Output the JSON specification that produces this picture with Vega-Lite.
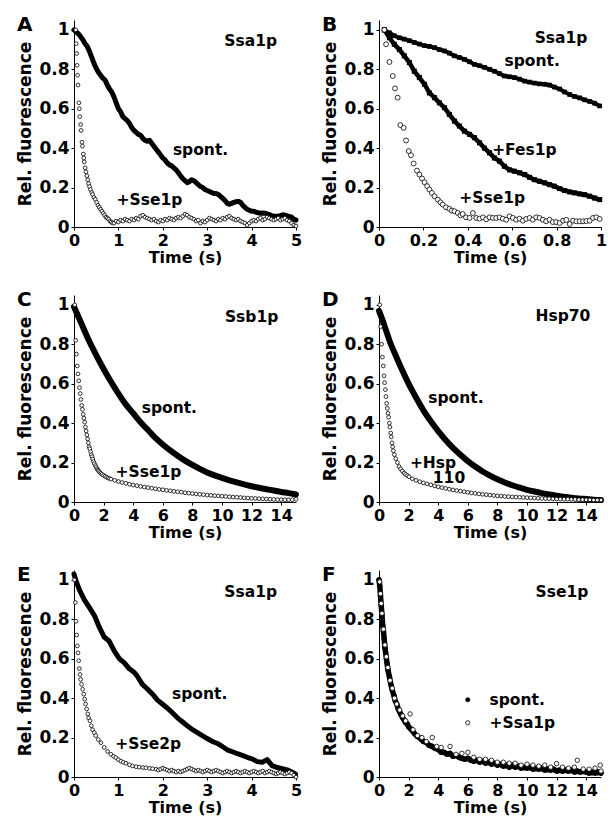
{
"$schema": "https://vega.github.io/schema/vega-lite/v6.json",
"padding": {"left": 16, "top": 15, "right": 5, "bottom": 5},
"bounds": "flush",
"columns": 2,
"spacing": {"row": 68, "column": 83},
"resolve": {"scale": {"fill": "independent"}, "legend": {"fill": "independent"}},
"datasets": {
"A_spont": [{"t":0,"v":1},{"t":0.05,"v":0.99},{"t":0.1,"v":0.98},{"t":0.15,"v":0.965},{"t":0.2,"v":0.95},{"t":0.25,"v":0.93},{"t":0.3,"v":0.915},{"t":0.35,"v":0.89},{"t":0.4,"v":0.86},{"t":0.45,"v":0.83},{"t":0.5,"v":0.805},{"t":0.55,"v":0.785},{"t":0.6,"v":0.77},{"t":0.65,"v":0.755},{"t":0.7,"v":0.745},{"t":0.75,"v":0.72},{"t":0.8,"v":0.7},{"t":0.85,"v":0.685},{"t":0.9,"v":0.66},{"t":0.95,"v":0.63},{"t":1,"v":0.6},{"t":1.05,"v":0.585},{"t":1.1,"v":0.56},{"t":1.15,"v":0.55},{"t":1.2,"v":0.54},{"t":1.25,"v":0.525},{"t":1.3,"v":0.505},{"t":1.35,"v":0.49},{"t":1.4,"v":0.48},{"t":1.45,"v":0.47},{"t":1.5,"v":0.465},{"t":1.55,"v":0.45},{"t":1.6,"v":0.44},{"t":1.65,"v":0.435},{"t":1.7,"v":0.44},{"t":1.75,"v":0.425},{"t":1.8,"v":0.41},{"t":1.85,"v":0.395},{"t":1.9,"v":0.38},{"t":1.95,"v":0.365},{"t":2,"v":0.35},{"t":2.05,"v":0.34},{"t":2.1,"v":0.325},{"t":2.15,"v":0.315},{"t":2.2,"v":0.31},{"t":2.25,"v":0.3},{"t":2.3,"v":0.29},{"t":2.35,"v":0.275},{"t":2.4,"v":0.26},{"t":2.45,"v":0.245},{"t":2.5,"v":0.235},{"t":2.55,"v":0.225},{"t":2.6,"v":0.23},{"t":2.65,"v":0.24},{"t":2.7,"v":0.235},{"t":2.75,"v":0.225},{"t":2.8,"v":0.215},{"t":2.85,"v":0.205},{"t":2.9,"v":0.2},{"t":2.95,"v":0.19},{"t":3,"v":0.185},{"t":3.05,"v":0.18},{"t":3.1,"v":0.175},{"t":3.15,"v":0.17},{"t":3.2,"v":0.17},{"t":3.25,"v":0.165},{"t":3.3,"v":0.155},{"t":3.35,"v":0.145},{"t":3.4,"v":0.135},{"t":3.45,"v":0.12},{"t":3.5,"v":0.115},{"t":3.55,"v":0.12},{"t":3.6,"v":0.125},{"t":3.65,"v":0.128},{"t":3.7,"v":0.13},{"t":3.75,"v":0.125},{"t":3.8,"v":0.11},{"t":3.85,"v":0.1},{"t":3.9,"v":0.09},{"t":3.95,"v":0.085},{"t":4,"v":0.08},{"t":4.05,"v":0.08},{"t":4.1,"v":0.075},{"t":4.15,"v":0.072},{"t":4.2,"v":0.07},{"t":4.25,"v":0.071},{"t":4.3,"v":0.07},{"t":4.35,"v":0.066},{"t":4.4,"v":0.063},{"t":4.45,"v":0.058},{"t":4.5,"v":0.055},{"t":4.55,"v":0.054},{"t":4.6,"v":0.055},{"t":4.65,"v":0.058},{"t":4.7,"v":0.062},{"t":4.75,"v":0.06},{"t":4.8,"v":0.056},{"t":4.85,"v":0.054},{"t":4.9,"v":0.05},{"t":4.95,"v":0.04},{"t":5,"v":0.035}],
"A_sse": [{"t":0.04,"v":1},{"t":0.05,"v":0.93},{"t":0.06,"v":0.88},{"t":0.07,"v":0.82},{"t":0.08,"v":0.77},{"t":0.09,"v":0.72},{"t":0.11,"v":0.63},{"t":0.12,"v":0.6},{"t":0.13,"v":0.56},{"t":0.15,"v":0.52},{"t":0.16,"v":0.49},{"t":0.18,"v":0.43},{"t":0.19,"v":0.41},{"t":0.21,"v":0.37},{"t":0.22,"v":0.35},{"t":0.23,"v":0.33},{"t":0.25,"v":0.3},{"t":0.27,"v":0.28},{"t":0.29,"v":0.26},{"t":0.31,"v":0.24},{"t":0.33,"v":0.22},{"t":0.35,"v":0.205},{"t":0.37,"v":0.19},{"t":0.4,"v":0.175},{"t":0.42,"v":0.165},{"t":0.45,"v":0.15},{"t":0.48,"v":0.14},{"t":0.51,"v":0.125},{"t":0.54,"v":0.11},{"t":0.57,"v":0.1},{"t":0.6,"v":0.09},{"t":0.63,"v":0.08},{"t":0.66,"v":0.07},{"t":0.69,"v":0.06},{"t":0.72,"v":0.05},{"t":0.75,"v":0.045},{"t":0.78,"v":0.04},{"t":0.81,"v":0.03},{"t":0.84,"v":0.025},{"t":0.87,"v":0.02},{"t":0.9,"v":0.02},{"t":0.95,"v":0.03},{"t":1,"v":0.025},{"t":1.05,"v":0.035},{"t":1.1,"v":0.03},{"t":1.15,"v":0.04},{"t":1.2,"v":0.035},{"t":1.25,"v":0.03},{"t":1.3,"v":0.04},{"t":1.35,"v":0.035},{"t":1.4,"v":0.045},{"t":1.45,"v":0.04},{"t":1.5,"v":0.055},{"t":1.55,"v":0.06},{"t":1.6,"v":0.05},{"t":1.65,"v":0.045},{"t":1.7,"v":0.04},{"t":1.75,"v":0.035},{"t":1.8,"v":0.04},{"t":1.85,"v":0.03},{"t":1.9,"v":0.025},{"t":1.95,"v":0.035},{"t":2,"v":0.03},{"t":2.05,"v":0.04},{"t":2.1,"v":0.035},{"t":2.15,"v":0.045},{"t":2.2,"v":0.04},{"t":2.25,"v":0.035},{"t":2.3,"v":0.045},{"t":2.35,"v":0.05},{"t":2.4,"v":0.045},{"t":2.45,"v":0.055},{"t":2.5,"v":0.065},{"t":2.55,"v":0.06},{"t":2.6,"v":0.05},{"t":2.65,"v":0.045},{"t":2.7,"v":0.04},{"t":2.75,"v":0.03},{"t":2.8,"v":0.035},{"t":2.85,"v":0.02},{"t":2.9,"v":0.03},{"t":2.95,"v":0.025},{"t":3,"v":0.035},{"t":3.05,"v":0.045},{"t":3.1,"v":0.04},{"t":3.15,"v":0.035},{"t":3.2,"v":0.03},{"t":3.25,"v":0.04},{"t":3.3,"v":0.035},{"t":3.35,"v":0.045},{"t":3.4,"v":0.04},{"t":3.45,"v":0.05},{"t":3.5,"v":0.055},{"t":3.55,"v":0.045},{"t":3.6,"v":0.04},{"t":3.65,"v":0.035},{"t":3.7,"v":0.04},{"t":3.75,"v":0.03},{"t":3.8,"v":0.025},{"t":3.85,"v":0.02},{"t":3.9,"v":0.01},{"t":3.95,"v":0.02},{"t":4,"v":0.03},{"t":4.05,"v":0.035},{"t":4.1,"v":0.03},{"t":4.15,"v":0.04},{"t":4.2,"v":0.045},{"t":4.25,"v":0.035},{"t":4.3,"v":0.04},{"t":4.35,"v":0.05},{"t":4.4,"v":0.045},{"t":4.45,"v":0.04},{"t":4.5,"v":0.035},{"t":4.55,"v":0.04},{"t":4.6,"v":0.045},{"t":4.65,"v":0.035},{"t":4.7,"v":0.04},{"t":4.75,"v":0.045},{"t":4.8,"v":0.035},{"t":4.85,"v":0.03},{"t":4.9,"v":0.02},{"t":4.95,"v":0.01},{"t":5,"v":0.005}],
"A_lab": [{"t":3.98,"v":0.92,"label":"Ssa1p"},{"t":2.85,"v":0.367,"label":"spont."},{"t":1.7,"v":0.113,"label":"+Sse1p"}],
"B_spont": [{"t":0.024,"v":1},{"t":0.047,"v":0.985},{"t":0.069,"v":0.97},{"t":0.092,"v":0.96},{"t":0.114,"v":0.953},{"t":0.137,"v":0.945},{"t":0.159,"v":0.936},{"t":0.182,"v":0.928},{"t":0.205,"v":0.92},{"t":0.227,"v":0.916},{"t":0.25,"v":0.91},{"t":0.272,"v":0.9},{"t":0.295,"v":0.893},{"t":0.317,"v":0.882},{"t":0.34,"v":0.868},{"t":0.362,"v":0.86},{"t":0.385,"v":0.85},{"t":0.408,"v":0.838},{"t":0.43,"v":0.825},{"t":0.453,"v":0.818},{"t":0.475,"v":0.81},{"t":0.498,"v":0.8},{"t":0.52,"v":0.79},{"t":0.543,"v":0.778},{"t":0.565,"v":0.766},{"t":0.588,"v":0.762},{"t":0.61,"v":0.758},{"t":0.633,"v":0.75},{"t":0.656,"v":0.74},{"t":0.678,"v":0.735},{"t":0.7,"v":0.73},{"t":0.723,"v":0.726},{"t":0.746,"v":0.724},{"t":0.768,"v":0.72},{"t":0.79,"v":0.71},{"t":0.814,"v":0.7},{"t":0.836,"v":0.685},{"t":0.859,"v":0.672},{"t":0.881,"v":0.662},{"t":0.904,"v":0.655},{"t":0.926,"v":0.645},{"t":0.949,"v":0.637},{"t":0.971,"v":0.628},{"t":0.994,"v":0.614}],
"B_fes": [{"t":0.024,"v":1},{"t":0.047,"v":0.96},{"t":0.069,"v":0.927},{"t":0.092,"v":0.9},{"t":0.114,"v":0.868},{"t":0.137,"v":0.834},{"t":0.159,"v":0.79},{"t":0.182,"v":0.758},{"t":0.205,"v":0.724},{"t":0.227,"v":0.68},{"t":0.25,"v":0.656},{"t":0.272,"v":0.63},{"t":0.295,"v":0.605},{"t":0.317,"v":0.571},{"t":0.34,"v":0.537},{"t":0.362,"v":0.512},{"t":0.385,"v":0.486},{"t":0.408,"v":0.47},{"t":0.43,"v":0.453},{"t":0.453,"v":0.427},{"t":0.475,"v":0.4},{"t":0.498,"v":0.376},{"t":0.52,"v":0.35},{"t":0.543,"v":0.334},{"t":0.565,"v":0.308},{"t":0.588,"v":0.29},{"t":0.61,"v":0.283},{"t":0.633,"v":0.275},{"t":0.656,"v":0.266},{"t":0.678,"v":0.252},{"t":0.7,"v":0.24},{"t":0.723,"v":0.232},{"t":0.746,"v":0.224},{"t":0.768,"v":0.215},{"t":0.79,"v":0.207},{"t":0.814,"v":0.195},{"t":0.836,"v":0.185},{"t":0.859,"v":0.178},{"t":0.881,"v":0.173},{"t":0.904,"v":0.168},{"t":0.926,"v":0.164},{"t":0.949,"v":0.156},{"t":0.971,"v":0.147},{"t":0.994,"v":0.139}],
"B_sse": [{"t":0.024,"v":1},{"t":0.032,"v":0.927},{"t":0.047,"v":0.837},{"t":0.062,"v":0.766},{"t":0.072,"v":0.703},{"t":0.084,"v":0.656},{"t":0.096,"v":0.517},{"t":0.111,"v":0.503},{"t":0.122,"v":0.439},{"t":0.134,"v":0.385},{"t":0.144,"v":0.364},{"t":0.156,"v":0.322},{"t":0.171,"v":0.286},{"t":0.182,"v":0.266},{"t":0.194,"v":0.246},{"t":0.205,"v":0.227},{"t":0.217,"v":0.207},{"t":0.227,"v":0.19},{"t":0.238,"v":0.173},{"t":0.25,"v":0.156},{"t":0.265,"v":0.139},{"t":0.277,"v":0.125},{"t":0.287,"v":0.114},{"t":0.302,"v":0.1},{"t":0.317,"v":0.092},{"t":0.328,"v":0.083},{"t":0.34,"v":0.08},{"t":0.355,"v":0.071},{"t":0.367,"v":0.059},{"t":0.377,"v":0.066},{"t":0.392,"v":0.049},{"t":0.408,"v":0.046},{"t":0.423,"v":0.071},{"t":0.438,"v":0.046},{"t":0.453,"v":0.042},{"t":0.468,"v":0.049},{"t":0.483,"v":0.039},{"t":0.498,"v":0.049},{"t":0.513,"v":0.046},{"t":0.528,"v":0.046},{"t":0.543,"v":0.049},{"t":0.558,"v":0.042},{"t":0.573,"v":0.037},{"t":0.588,"v":0.054},{"t":0.603,"v":0.046},{"t":0.618,"v":0.037},{"t":0.633,"v":0.042},{"t":0.648,"v":0.032},{"t":0.663,"v":0.041},{"t":0.678,"v":0.046},{"t":0.693,"v":0.037},{"t":0.708,"v":0.049},{"t":0.723,"v":0.046},{"t":0.738,"v":0.037},{"t":0.753,"v":0.029},{"t":0.768,"v":0.037},{"t":0.783,"v":0.025},{"t":0.798,"v":0.025},{"t":0.814,"v":0.02},{"t":0.829,"v":0.032},{"t":0.844,"v":0.036},{"t":0.859,"v":0.015},{"t":0.874,"v":0.032},{"t":0.889,"v":0.029},{"t":0.904,"v":0.029},{"t":0.919,"v":0.029},{"t":0.934,"v":0.03},{"t":0.949,"v":0.032},{"t":0.964,"v":0.046},{"t":0.979,"v":0.049},{"t":0.994,"v":0.041}],
"B_lab": [{"t":0.82,"v":0.934,"label":"Ssa1p"},{"t":0.69,"v":0.816,"label":"spont."},{"t":0.655,"v":0.367,"label":"+Fes1p"},{"t":0.51,"v":0.122,"label":"+Sse1p"}],
"C_spont": [{"t":0,"v":0.99},{"t":0.5,"v":0.905},{"t":1,"v":0.82},{"t":1.5,"v":0.745},{"t":2,"v":0.675},{"t":2.5,"v":0.61},{"t":3,"v":0.55},{"t":3.5,"v":0.495},{"t":4,"v":0.45},{"t":4.5,"v":0.405},{"t":5,"v":0.365},{"t":5.5,"v":0.325},{"t":6,"v":0.292},{"t":6.5,"v":0.262},{"t":7,"v":0.235},{"t":7.5,"v":0.21},{"t":8,"v":0.188},{"t":8.5,"v":0.168},{"t":9,"v":0.15},{"t":9.5,"v":0.135},{"t":10,"v":0.122},{"t":10.5,"v":0.11},{"t":11,"v":0.099},{"t":11.5,"v":0.089},{"t":12,"v":0.08},{"t":12.5,"v":0.072},{"t":13,"v":0.065},{"t":13.5,"v":0.058},{"t":14,"v":0.051},{"t":14.5,"v":0.045},{"t":15,"v":0.038}],
"C_sse": [{"t":0.05,"v":1},{"t":0.11,"v":0.82},{"t":0.17,"v":0.75},{"t":0.22,"v":0.69},{"t":0.27,"v":0.65},{"t":0.32,"v":0.615},{"t":0.37,"v":0.58},{"t":0.42,"v":0.55},{"t":0.47,"v":0.52},{"t":0.52,"v":0.49},{"t":0.57,"v":0.47},{"t":0.62,"v":0.445},{"t":0.67,"v":0.425},{"t":0.72,"v":0.405},{"t":0.77,"v":0.38},{"t":0.82,"v":0.36},{"t":0.87,"v":0.34},{"t":0.92,"v":0.32},{"t":0.97,"v":0.3},{"t":1.02,"v":0.28},{"t":1.07,"v":0.27},{"t":1.12,"v":0.255},{"t":1.17,"v":0.24},{"t":1.22,"v":0.23},{"t":1.27,"v":0.218},{"t":1.32,"v":0.205},{"t":1.38,"v":0.195},{"t":1.44,"v":0.185},{"t":1.5,"v":0.177},{"t":1.56,"v":0.168},{"t":1.62,"v":0.162},{"t":1.68,"v":0.156},{"t":1.75,"v":0.15},{"t":1.82,"v":0.145},{"t":1.9,"v":0.14},{"t":2,"v":0.135},{"t":2.1,"v":0.13},{"t":2.2,"v":0.126},{"t":2.3,"v":0.122},{"t":2.4,"v":0.119},{"t":2.5,"v":0.116},{"t":2.75,"v":0.11},{"t":3,"v":0.104},{"t":3.25,"v":0.099},{"t":3.5,"v":0.095},{"t":3.75,"v":0.09},{"t":4,"v":0.086},{"t":4.25,"v":0.083},{"t":4.5,"v":0.079},{"t":4.75,"v":0.076},{"t":5,"v":0.073},{"t":5.25,"v":0.07},{"t":5.5,"v":0.067},{"t":5.75,"v":0.064},{"t":6,"v":0.062},{"t":6.25,"v":0.059},{"t":6.5,"v":0.057},{"t":6.75,"v":0.054},{"t":7,"v":0.052},{"t":7.25,"v":0.05},{"t":7.5,"v":0.047},{"t":7.75,"v":0.045},{"t":8,"v":0.043},{"t":8.25,"v":0.041},{"t":8.5,"v":0.039},{"t":8.75,"v":0.037},{"t":9,"v":0.035},{"t":9.25,"v":0.034},{"t":9.5,"v":0.032},{"t":9.75,"v":0.031},{"t":10,"v":0.029},{"t":10.25,"v":0.028},{"t":10.5,"v":0.026},{"t":10.75,"v":0.025},{"t":11,"v":0.024},{"t":11.25,"v":0.023},{"t":11.5,"v":0.021},{"t":11.75,"v":0.02},{"t":12,"v":0.019},{"t":12.25,"v":0.018},{"t":12.5,"v":0.017},{"t":12.75,"v":0.016},{"t":13,"v":0.015},{"t":13.25,"v":0.014},{"t":13.5,"v":0.013},{"t":13.75,"v":0.012},{"t":14,"v":0.012},{"t":14.25,"v":0.011},{"t":14.5,"v":0.011},{"t":14.75,"v":0.012},{"t":15,"v":0.014}],
"C_lab": [{"t":12.0,"v":0.912,"label":"Ssb1p"},{"t":6.44,"v":0.452,"label":"spont."},{"t":5.03,"v":0.129,"label":"+Sse1p"}],
"D_spont": [{"t":0,"v":0.97},{"t":0.25,"v":0.92},{"t":0.5,"v":0.865},{"t":0.75,"v":0.81},{"t":1,"v":0.765},{"t":1.5,"v":0.68},{"t":2,"v":0.6},{"t":2.5,"v":0.53},{"t":3,"v":0.465},{"t":3.5,"v":0.41},{"t":4,"v":0.36},{"t":4.5,"v":0.315},{"t":5,"v":0.275},{"t":5.5,"v":0.24},{"t":6,"v":0.207},{"t":6.5,"v":0.18},{"t":7,"v":0.155},{"t":7.5,"v":0.134},{"t":8,"v":0.115},{"t":8.5,"v":0.099},{"t":9,"v":0.085},{"t":9.5,"v":0.073},{"t":10,"v":0.062},{"t":10.5,"v":0.053},{"t":11,"v":0.045},{"t":11.5,"v":0.038},{"t":12,"v":0.032},{"t":12.5,"v":0.027},{"t":13,"v":0.022},{"t":13.5,"v":0.018},{"t":14,"v":0.015},{"t":14.5,"v":0.012},{"t":15,"v":0.01}],
"D_hsp": [{"t":0.05,"v":1},{"t":0.11,"v":0.89},{"t":0.18,"v":0.8},{"t":0.23,"v":0.735},{"t":0.29,"v":0.69},{"t":0.34,"v":0.64},{"t":0.38,"v":0.605},{"t":0.43,"v":0.57},{"t":0.47,"v":0.535},{"t":0.52,"v":0.5},{"t":0.56,"v":0.475},{"t":0.61,"v":0.45},{"t":0.65,"v":0.43},{"t":0.7,"v":0.4},{"t":0.74,"v":0.38},{"t":0.79,"v":0.35},{"t":0.83,"v":0.33},{"t":0.88,"v":0.3},{"t":0.92,"v":0.28},{"t":0.97,"v":0.26},{"t":1.04,"v":0.24},{"t":1.13,"v":0.22},{"t":1.24,"v":0.2},{"t":1.35,"v":0.18},{"t":1.46,"v":0.168},{"t":1.58,"v":0.157},{"t":1.7,"v":0.147},{"t":1.8,"v":0.14},{"t":1.92,"v":0.134},{"t":2.03,"v":0.128},{"t":2.25,"v":0.118},{"t":2.5,"v":0.11},{"t":2.75,"v":0.103},{"t":3,"v":0.097},{"t":3.25,"v":0.092},{"t":3.5,"v":0.087},{"t":3.75,"v":0.082},{"t":4,"v":0.077},{"t":4.25,"v":0.073},{"t":4.5,"v":0.069},{"t":4.75,"v":0.065},{"t":5,"v":0.061},{"t":5.25,"v":0.058},{"t":5.5,"v":0.055},{"t":5.75,"v":0.052},{"t":6,"v":0.049},{"t":6.25,"v":0.046},{"t":6.5,"v":0.044},{"t":6.75,"v":0.041},{"t":7,"v":0.039},{"t":7.25,"v":0.037},{"t":7.5,"v":0.035},{"t":7.75,"v":0.033},{"t":8,"v":0.031},{"t":8.25,"v":0.03},{"t":8.5,"v":0.028},{"t":8.75,"v":0.027},{"t":9,"v":0.026},{"t":9.25,"v":0.025},{"t":9.5,"v":0.024},{"t":9.75,"v":0.023},{"t":10,"v":0.022},{"t":10.25,"v":0.021},{"t":10.5,"v":0.02},{"t":10.75,"v":0.019},{"t":11,"v":0.018},{"t":11.25,"v":0.017},{"t":11.5,"v":0.017},{"t":11.75,"v":0.016},{"t":12,"v":0.015},{"t":12.25,"v":0.015},{"t":12.5,"v":0.014},{"t":12.75,"v":0.014},{"t":13,"v":0.013},{"t":13.25,"v":0.013},{"t":13.5,"v":0.012},{"t":13.75,"v":0.012},{"t":14,"v":0.011},{"t":14.25,"v":0.011},{"t":14.5,"v":0.01},{"t":14.75,"v":0.01},{"t":15,"v":0.01}],
"D_lab": [{"t":12.43,"v":0.919,"label":"Hsp70"},{"t":5.2,"v":0.504,"label":"spont."},{"t":3.65,"v":0.174,"label":"+Hsp"},{"t":4.73,"v":0.098,"label":"110"}],
"E_spont": [{"t":0,"v":1.03},{"t":0.045,"v":0.995},{"t":0.12,"v":0.95},{"t":0.23,"v":0.9},{"t":0.345,"v":0.86},{"t":0.457,"v":0.82},{"t":0.57,"v":0.76},{"t":0.68,"v":0.71},{"t":0.79,"v":0.69},{"t":0.906,"v":0.64},{"t":1.02,"v":0.6},{"t":1.13,"v":0.58},{"t":1.24,"v":0.55},{"t":1.36,"v":0.53},{"t":1.43,"v":0.51},{"t":1.54,"v":0.47},{"t":1.66,"v":0.445},{"t":1.77,"v":0.42},{"t":1.88,"v":0.39},{"t":1.99,"v":0.37},{"t":2.1,"v":0.35},{"t":2.22,"v":0.325},{"t":2.33,"v":0.3},{"t":2.44,"v":0.28},{"t":2.55,"v":0.26},{"t":2.67,"v":0.24},{"t":2.78,"v":0.225},{"t":2.89,"v":0.21},{"t":3,"v":0.195},{"t":3.12,"v":0.18},{"t":3.23,"v":0.17},{"t":3.34,"v":0.155},{"t":3.45,"v":0.138},{"t":3.57,"v":0.128},{"t":3.68,"v":0.118},{"t":3.79,"v":0.11},{"t":3.9,"v":0.1},{"t":4.01,"v":0.092},{"t":4.13,"v":0.078},{"t":4.24,"v":0.075},{"t":4.35,"v":0.088},{"t":4.46,"v":0.058},{"t":4.58,"v":0.048},{"t":4.69,"v":0.042},{"t":4.8,"v":0.036},{"t":4.91,"v":0.025},{"t":4.99,"v":0.014}],
"E_sse": [{"t":0.01,"v":1},{"t":0.03,"v":0.885},{"t":0.045,"v":0.79},{"t":0.06,"v":0.72},{"t":0.075,"v":0.665},{"t":0.09,"v":0.63},{"t":0.105,"v":0.59},{"t":0.12,"v":0.55},{"t":0.135,"v":0.52},{"t":0.15,"v":0.495},{"t":0.17,"v":0.47},{"t":0.195,"v":0.445},{"t":0.22,"v":0.42},{"t":0.24,"v":0.395},{"t":0.26,"v":0.37},{"t":0.285,"v":0.345},{"t":0.31,"v":0.32},{"t":0.33,"v":0.3},{"t":0.36,"v":0.285},{"t":0.39,"v":0.26},{"t":0.42,"v":0.24},{"t":0.457,"v":0.225},{"t":0.49,"v":0.21},{"t":0.547,"v":0.19},{"t":0.607,"v":0.174},{"t":0.68,"v":0.15},{"t":0.757,"v":0.13},{"t":0.83,"v":0.115},{"t":0.89,"v":0.105},{"t":0.944,"v":0.098},{"t":1,"v":0.088},{"t":1.056,"v":0.08},{"t":1.11,"v":0.075},{"t":1.17,"v":0.07},{"t":1.25,"v":0.062},{"t":1.32,"v":0.056},{"t":1.4,"v":0.052},{"t":1.47,"v":0.05},{"t":1.55,"v":0.048},{"t":1.62,"v":0.047},{"t":1.7,"v":0.044},{"t":1.77,"v":0.042},{"t":1.85,"v":0.04},{"t":1.9,"v":0.035},{"t":1.95,"v":0.04},{"t":2,"v":0.045},{"t":2.05,"v":0.04},{"t":2.1,"v":0.035},{"t":2.15,"v":0.03},{"t":2.2,"v":0.035},{"t":2.25,"v":0.03},{"t":2.3,"v":0.025},{"t":2.35,"v":0.03},{"t":2.4,"v":0.025},{"t":2.45,"v":0.03},{"t":2.5,"v":0.035},{"t":2.55,"v":0.04},{"t":2.6,"v":0.045},{"t":2.65,"v":0.04},{"t":2.7,"v":0.035},{"t":2.75,"v":0.03},{"t":2.8,"v":0.035},{"t":2.85,"v":0.03},{"t":2.9,"v":0.025},{"t":2.95,"v":0.03},{"t":3,"v":0.035},{"t":3.05,"v":0.03},{"t":3.1,"v":0.025},{"t":3.15,"v":0.03},{"t":3.2,"v":0.035},{"t":3.25,"v":0.03},{"t":3.3,"v":0.025},{"t":3.35,"v":0.02},{"t":3.4,"v":0.025},{"t":3.45,"v":0.03},{"t":3.5,"v":0.025},{"t":3.55,"v":0.02},{"t":3.6,"v":0.025},{"t":3.65,"v":0.03},{"t":3.7,"v":0.025},{"t":3.75,"v":0.02},{"t":3.8,"v":0.025},{"t":3.85,"v":0.03},{"t":3.9,"v":0.025},{"t":3.95,"v":0.02},{"t":4,"v":0.025},{"t":4.05,"v":0.03},{"t":4.1,"v":0.025},{"t":4.15,"v":0.02},{"t":4.2,"v":0.025},{"t":4.25,"v":0.03},{"t":4.3,"v":0.02},{"t":4.35,"v":0.025},{"t":4.4,"v":0.03},{"t":4.45,"v":0.025},{"t":4.5,"v":0.02},{"t":4.55,"v":0.015},{"t":4.6,"v":0.02},{"t":4.65,"v":0.025},{"t":4.7,"v":0.02},{"t":4.75,"v":0.015},{"t":4.8,"v":0.02},{"t":4.85,"v":0.025},{"t":4.9,"v":0.02},{"t":4.95,"v":0.01},{"t":5,"v":0.0}],
"E_lab": [{"t":3.98,"v":0.912,"label":"Ssa1p"},{"t":2.83,"v":0.396,"label":"spont."},{"t":1.67,"v":0.142,"label":"+Sse2p"}],
"F": [{"t":0,"v":1,"s":"spont."},{"t":0.05,"v":0.97,"s":"spont."},{"t":0.1,"v":0.92,"s":"spont."},{"t":0.15,"v":0.87,"s":"spont."},{"t":0.2,"v":0.82,"s":"spont."},{"t":0.25,"v":0.77,"s":"spont."},{"t":0.3,"v":0.74,"s":"spont."},{"t":0.35,"v":0.7,"s":"spont."},{"t":0.4,"v":0.655,"s":"spont."},{"t":0.45,"v":0.63,"s":"spont."},{"t":0.5,"v":0.6,"s":"spont."},{"t":0.55,"v":0.575,"s":"spont."},{"t":0.6,"v":0.545,"s":"spont."},{"t":0.7,"v":0.51,"s":"spont."},{"t":0.8,"v":0.47,"s":"spont."},{"t":0.9,"v":0.44,"s":"spont."},{"t":1,"v":0.415,"s":"spont."},{"t":1.1,"v":0.385,"s":"spont."},{"t":1.2,"v":0.37,"s":"spont."},{"t":1.3,"v":0.345,"s":"spont."},{"t":1.4,"v":0.33,"s":"spont."},{"t":1.5,"v":0.315,"s":"spont."},{"t":1.6,"v":0.3,"s":"spont."},{"t":1.7,"v":0.29,"s":"spont."},{"t":1.8,"v":0.275,"s":"spont."},{"t":1.9,"v":0.27,"s":"spont."},{"t":2,"v":0.255,"s":"spont."},{"t":2.2,"v":0.24,"s":"spont."},{"t":2.4,"v":0.22,"s":"spont."},{"t":2.6,"v":0.205,"s":"spont."},{"t":2.8,"v":0.195,"s":"spont."},{"t":3,"v":0.18,"s":"spont."},{"t":3.2,"v":0.175,"s":"spont."},{"t":3.4,"v":0.16,"s":"spont."},{"t":3.6,"v":0.155,"s":"spont."},{"t":3.8,"v":0.145,"s":"spont."},{"t":4,"v":0.14,"s":"spont."},{"t":4.2,"v":0.125,"s":"spont."},{"t":4.4,"v":0.125,"s":"spont."},{"t":4.6,"v":0.115,"s":"spont."},{"t":4.8,"v":0.12,"s":"spont."},{"t":5,"v":0.105,"s":"spont."},{"t":5.2,"v":0.11,"s":"spont."},{"t":5.4,"v":0.1,"s":"spont."},{"t":5.6,"v":0.095,"s":"spont."},{"t":5.8,"v":0.09,"s":"spont."},{"t":6,"v":0.095,"s":"spont."},{"t":6.2,"v":0.085,"s":"spont."},{"t":6.4,"v":0.08,"s":"spont."},{"t":6.6,"v":0.085,"s":"spont."},{"t":6.8,"v":0.075,"s":"spont."},{"t":7,"v":0.08,"s":"spont."},{"t":7.2,"v":0.07,"s":"spont."},{"t":7.4,"v":0.075,"s":"spont."},{"t":7.6,"v":0.065,"s":"spont."},{"t":7.8,"v":0.07,"s":"spont."},{"t":8,"v":0.06,"s":"spont."},{"t":8.2,"v":0.065,"s":"spont."},{"t":8.4,"v":0.055,"s":"spont."},{"t":8.6,"v":0.06,"s":"spont."},{"t":8.8,"v":0.05,"s":"spont."},{"t":9,"v":0.06,"s":"spont."},{"t":9.2,"v":0.05,"s":"spont."},{"t":9.4,"v":0.055,"s":"spont."},{"t":9.6,"v":0.045,"s":"spont."},{"t":9.8,"v":0.05,"s":"spont."},{"t":10,"v":0.045,"s":"spont."},{"t":10.2,"v":0.05,"s":"spont."},{"t":10.4,"v":0.04,"s":"spont."},{"t":10.6,"v":0.045,"s":"spont."},{"t":10.8,"v":0.04,"s":"spont."},{"t":11,"v":0.045,"s":"spont."},{"t":11.2,"v":0.035,"s":"spont."},{"t":11.4,"v":0.04,"s":"spont."},{"t":11.6,"v":0.035,"s":"spont."},{"t":11.8,"v":0.04,"s":"spont."},{"t":12,"v":0.03,"s":"spont."},{"t":12.2,"v":0.035,"s":"spont."},{"t":12.4,"v":0.03,"s":"spont."},{"t":12.6,"v":0.035,"s":"spont."},{"t":12.8,"v":0.03,"s":"spont."},{"t":13,"v":0.035,"s":"spont."},{"t":13.2,"v":0.025,"s":"spont."},{"t":13.4,"v":0.03,"s":"spont."},{"t":13.6,"v":0.025,"s":"spont."},{"t":13.8,"v":0.03,"s":"spont."},{"t":14,"v":0.025,"s":"spont."},{"t":14.2,"v":0.02,"s":"spont."},{"t":14.4,"v":0.025,"s":"spont."},{"t":14.6,"v":0.02,"s":"spont."},{"t":14.8,"v":0.025,"s":"spont."},{"t":15,"v":0.02,"s":"spont."},
{"t":0.05,"v":0.99,"s":"+Ssa1p"},{"t":0.1,"v":0.93,"s":"+Ssa1p"},{"t":0.15,"v":0.88,"s":"+Ssa1p"},{"t":0.2,"v":0.83,"s":"+Ssa1p"},{"t":0.3,"v":0.75,"s":"+Ssa1p"},{"t":0.4,"v":0.67,"s":"+Ssa1p"},{"t":0.5,"v":0.61,"s":"+Ssa1p"},{"t":0.6,"v":0.555,"s":"+Ssa1p"},{"t":0.75,"v":0.49,"s":"+Ssa1p"},{"t":0.9,"v":0.45,"s":"+Ssa1p"},{"t":1.05,"v":0.4,"s":"+Ssa1p"},{"t":1.2,"v":0.37,"s":"+Ssa1p"},{"t":1.4,"v":0.34,"s":"+Ssa1p"},{"t":1.6,"v":0.31,"s":"+Ssa1p"},{"t":1.8,"v":0.285,"s":"+Ssa1p"},{"t":2.1,"v":0.32,"s":"+Ssa1p"},{"t":2.3,"v":0.24,"s":"+Ssa1p"},{"t":2.6,"v":0.21,"s":"+Ssa1p"},{"t":2.9,"v":0.2,"s":"+Ssa1p"},{"t":3.2,"v":0.18,"s":"+Ssa1p"},{"t":3.6,"v":0.2,"s":"+Ssa1p"},{"t":3.9,"v":0.155,"s":"+Ssa1p"},{"t":4.2,"v":0.15,"s":"+Ssa1p"},{"t":4.8,"v":0.155,"s":"+Ssa1p"},{"t":5.2,"v":0.115,"s":"+Ssa1p"},{"t":5.6,"v":0.12,"s":"+Ssa1p"},{"t":6,"v":0.125,"s":"+Ssa1p"},{"t":6.4,"v":0.1,"s":"+Ssa1p"},{"t":6.8,"v":0.09,"s":"+Ssa1p"},{"t":7.2,"v":0.09,"s":"+Ssa1p"},{"t":7.6,"v":0.085,"s":"+Ssa1p"},{"t":8,"v":0.075,"s":"+Ssa1p"},{"t":8.4,"v":0.075,"s":"+Ssa1p"},{"t":8.8,"v":0.07,"s":"+Ssa1p"},{"t":9.2,"v":0.07,"s":"+Ssa1p"},{"t":9.6,"v":0.06,"s":"+Ssa1p"},{"t":10,"v":0.065,"s":"+Ssa1p"},{"t":10.4,"v":0.06,"s":"+Ssa1p"},{"t":10.8,"v":0.055,"s":"+Ssa1p"},{"t":11.2,"v":0.06,"s":"+Ssa1p"},{"t":11.6,"v":0.05,"s":"+Ssa1p"},{"t":12,"v":0.068,"s":"+Ssa1p"},{"t":12.4,"v":0.05,"s":"+Ssa1p"},{"t":12.8,"v":0.045,"s":"+Ssa1p"},{"t":13.2,"v":0.05,"s":"+Ssa1p"},{"t":13.4,"v":0.085,"s":"+Ssa1p"},{"t":13.8,"v":0.04,"s":"+Ssa1p"},{"t":14.2,"v":0.04,"s":"+Ssa1p"},{"t":14.6,"v":0.045,"s":"+Ssa1p"},{"t":14.95,"v":0.06,"s":"+Ssa1p"},{"t":15,"v":0.03,"s":"+Ssa1p"}],
"F_lab": [{"t":12.36,"v":0.914,"label":"Sse1p"}]
},
"concat": [
 {"width":222,"height":207,"title":"A",
  "encoding":{"x":{"field":"t","type":"quantitative","scale":{"domain":[0,5],"nice":false},"axis":{"values":[0,1,2,3,4,5],"format":"~g","title":"Time (s)"}},
   "y":{"field":"v","type":"quantitative","scale":{"domain":[0,1.05],"nice":false},"axis":{"values":[0,0.2,0.4,0.6,0.8,1],"format":"~g","title":"Rel. fluorescence"}}},
  "layer":[
   {"data":{"name":"A_spont"},"mark":{"type":"line","color":"black","strokeWidth":5,"strokeJoin":"round","strokeCap":"round"}},
   {"data":{"name":"A_sse"},"mark":{"type":"circle","fill":"white","stroke":"black","strokeWidth":0.8,"size":14,"opacity":1,"fillOpacity":1}},
   {"data":{"name":"A_lab"},"mark":{"type":"text","fontSize":15.5,"fontWeight":"bold","align":"center","baseline":"alphabetic","color":"black"},"encoding":{"text":{"field":"label"}}}
  ]},
 {"width":222,"height":207,"title":"B",
  "encoding":{"x":{"field":"t","type":"quantitative","scale":{"domain":[0,1],"nice":false},"axis":{"values":[0,0.2,0.4,0.6,0.8,1],"format":"~g","title":"Time (s)"}},
   "y":{"field":"v","type":"quantitative","scale":{"domain":[0,1.05],"nice":false},"axis":{"values":[0,0.2,0.4,0.6,0.8,1],"format":"~g","title":"Rel. fluorescence"}}},
  "layer":[
   {"data":{"name":"B_spont"},"mark":{"type":"line","color":"black","strokeWidth":4}},
   {"data":{"name":"B_spont"},"mark":{"type":"square","color":"black","size":22,"opacity":1}},
   {"data":{"name":"B_fes"},"mark":{"type":"line","color":"black","strokeWidth":4.5}},
   {"data":{"name":"B_fes"},"mark":{"type":"square","color":"black","size":26,"opacity":1}},
   {"data":{"name":"B_sse"},"mark":{"type":"circle","fill":"white","stroke":"black","strokeWidth":0.8,"size":24,"opacity":1,"fillOpacity":1}},
   {"data":{"name":"B_lab"},"mark":{"type":"text","fontSize":15.5,"fontWeight":"bold","align":"center","baseline":"alphabetic","color":"black"},"encoding":{"text":{"field":"label"}}}
  ]},
 {"width":222,"height":207,"title":"C",
  "encoding":{"x":{"field":"t","type":"quantitative","scale":{"domain":[0,15],"nice":false},"axis":{"values":[0,2,4,6,8,10,12,14],"format":"~g","title":"Time (s)"}},
   "y":{"field":"v","type":"quantitative","scale":{"domain":[0,1.05],"nice":false},"axis":{"values":[0,0.2,0.4,0.6,0.8,1],"format":"~g","title":"Rel. fluorescence"}}},
  "layer":[
   {"data":{"name":"C_spont"},"mark":{"type":"line","color":"black","strokeWidth":6,"interpolate":"monotone","strokeCap":"round"}},
   {"data":{"name":"C_sse"},"mark":{"type":"circle","fill":"white","stroke":"black","strokeWidth":0.8,"size":14,"opacity":1,"fillOpacity":1}},
   {"data":{"name":"C_lab"},"mark":{"type":"text","fontSize":15.5,"fontWeight":"bold","align":"center","baseline":"alphabetic","color":"black"},"encoding":{"text":{"field":"label"}}}
  ]},
 {"width":222,"height":207,"title":"D",
  "encoding":{"x":{"field":"t","type":"quantitative","scale":{"domain":[0,15],"nice":false},"axis":{"values":[0,2,4,6,8,10,12,14],"format":"~g","title":"Time (s)"}},
   "y":{"field":"v","type":"quantitative","scale":{"domain":[0,1.05],"nice":false},"axis":{"values":[0,0.2,0.4,0.6,0.8,1],"format":"~g","title":"Rel. fluorescence"}}},
  "layer":[
   {"data":{"name":"D_spont"},"mark":{"type":"line","color":"black","strokeWidth":6,"interpolate":"monotone","strokeCap":"round"}},
   {"data":{"name":"D_hsp"},"mark":{"type":"circle","fill":"white","stroke":"black","strokeWidth":0.8,"size":14,"opacity":1,"fillOpacity":1}},
   {"data":{"name":"D_lab"},"mark":{"type":"text","fontSize":15.5,"fontWeight":"bold","align":"center","baseline":"alphabetic","color":"black"},"encoding":{"text":{"field":"label"}}}
  ]},
 {"width":222,"height":207,"title":"E",
  "encoding":{"x":{"field":"t","type":"quantitative","scale":{"domain":[0,5],"nice":false},"axis":{"values":[0,1,2,3,4,5],"format":"~g","title":"Time (s)"}},
   "y":{"field":"v","type":"quantitative","scale":{"domain":[0,1.05],"nice":false},"axis":{"values":[0,0.2,0.4,0.6,0.8,1],"format":"~g","title":"Rel. fluorescence"}}},
  "layer":[
   {"data":{"name":"E_spont"},"mark":{"type":"line","color":"black","strokeWidth":5,"strokeJoin":"round","strokeCap":"round"}},
   {"data":{"name":"E_sse"},"mark":{"type":"circle","fill":"white","stroke":"black","strokeWidth":0.8,"size":14,"opacity":1,"fillOpacity":1}},
   {"data":{"name":"E_lab"},"mark":{"type":"text","fontSize":15.5,"fontWeight":"bold","align":"center","baseline":"alphabetic","color":"black"},"encoding":{"text":{"field":"label"}}}
  ]},
 {"width":222,"height":207,"title":"F",
  "encoding":{"x":{"field":"t","type":"quantitative","scale":{"domain":[0,15],"nice":false},"axis":{"values":[0,2,4,6,8,10,12,14],"format":"~g","title":"Time (s)"}},
   "y":{"field":"v","type":"quantitative","scale":{"domain":[0,1.05],"nice":false},"axis":{"values":[0,0.2,0.4,0.6,0.8,1],"format":"~g","title":"Rel. fluorescence"}}},
  "layer":[
   {"data":{"name":"F"},"transform":[{"filter":"datum.s === 'spont.'"}],"mark":{"type":"line","color":"black","strokeWidth":5.5,"strokeJoin":"round","strokeCap":"round"}},
   {"data":{"name":"F"},"mark":{"type":"circle","stroke":"black","strokeWidth":0.8,"size":20,"opacity":1,"fillOpacity":1},
    "encoding":{"fill":{"field":"s","type":"nominal","scale":{"domain":["spont.","+Ssa1p"],"range":["black","white"]},
      "legend":{"title":null,"orient":"bottom-right","offset":45,"labelFontSize":15.5,"labelFontWeight":"bold","labelFont":"DejaVu Sans","labelColor":"black","symbolSize":18,"symbolType":"circle","symbolStrokeColor":"black","symbolStrokeWidth":0.8,"rowPadding":6,"labelOffset":14,"padding":0}}}},
   {"data":{"name":"F_lab"},"mark":{"type":"text","fontSize":15.5,"fontWeight":"bold","align":"center","baseline":"alphabetic","color":"black"},"encoding":{"text":{"field":"label"}}}
  ]}
],
"config": {
 "font": "DejaVu Sans",
 "view": {"stroke": null},
 "axis": {"grid": false, "domainColor": "black", "tickColor": "black", "labelColor": "black", "titleColor": "black", "labelFont": "DejaVu Sans", "titleFont": "DejaVu Sans", "labelFontWeight": "bold", "titleFontWeight": "bold", "tickSize": 3, "domainWidth": 1, "tickWidth": 1, "labelFlush": false, "labelOverlap": false},
 "axisY": {"labelFontSize": 17, "titleFontSize": 17, "labelPadding": 2, "titlePadding": 4},
 "axisX": {"labelFontSize": 16, "titleFontSize": 16, "labelPadding": 2, "titlePadding": 1},
 "title": {"fontSize": 20, "fontWeight": "bold", "font": "DejaVu Sans", "anchor": "start", "frame": "bounds", "baseline": "alphabetic", "offset": -15, "color": "black"}
}
}
